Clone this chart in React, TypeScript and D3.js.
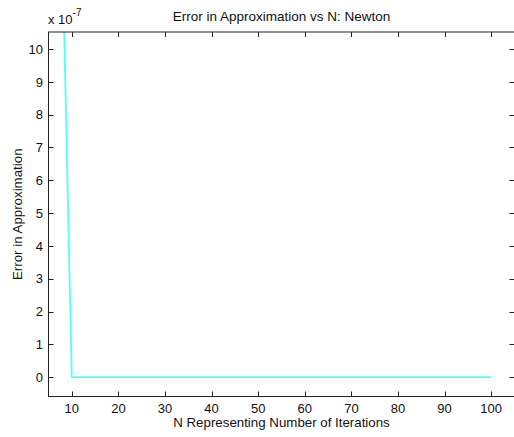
import React from "react";
import * as d3 from "d3";

// Data
const iterations: number[] = d3.range(8, 101);
const errorValues: number[] = [
  1.29e-6, 6.4e-7,
  0, 0, 0, 0, 0, 0, 0, 0, 0, 0,
  0, 0, 0, 0, 0, 0, 0, 0, 0, 0,
  0, 0, 0, 0, 0, 0, 0, 0, 0, 0,
  0, 0, 0, 0, 0, 0, 0, 0, 0, 0,
  0, 0, 0, 0, 0, 0, 0, 0, 0, 0,
  0, 0, 0, 0, 0, 0, 0, 0, 0, 0,
  0, 0, 0, 0, 0, 0, 0, 0, 0, 0,
  0, 0, 0, 0, 0, 0, 0, 0, 0, 0,
  0, 0, 0, 0, 0, 0, 0, 0, 0, 0,
  0,
];
const xTicks = [10, 20, 30, 40, 50, 60, 70, 80, 90, 100];
const yTicks = [0, 1, 2, 3, 4, 5, 6, 7, 8, 9, 10];
const yExponent = -7;
const titleText = "Error in Approximation vs N: Newton";
const xLabelText = "N Representing Number of Iterations";
const yLabelText = "Error in Approximation";

const W = 514;
const H = 437;
const left = 48.5;
const right = 514.5;
const top = 32;
const bottom = 396.5;

export default function App() {
  const x = d3.scaleLinear().domain([5, 105]).range([left, right]);
  const y = d3.scaleLinear().domain([-0.59, 10.52]).range([bottom, top]);
  const scale = Math.pow(10, yExponent);
  const line = d3
    .line<number>()
    .x((_, i) => x(iterations[i]))
    .y((d) => y(d / scale));
  const font = "Arial, 'Liberation Sans', Helvetica, sans-serif";
  const tickLen = 5;
  const axisColor = "#222";
  return (
    <svg
      width={W}
      height={H}
      style={{ position: "absolute", left: 0, top: 0, background: "#fff" }}
      fontFamily={font}
    >
      <defs>
        <clipPath id="plotclip">
          <rect x={left} y={top} width={right - left} height={bottom - top} />
        </clipPath>
      </defs>
      <rect x={0} y={0} width={W} height={H} fill="#fff" />
      <path
        d={line(errorValues) || ""}
        fill="none"
        stroke="#4dffff"
        strokeWidth={1.8}
        clipPath="url(#plotclip)"
      />
      {/* box */}
      <rect
        x={left}
        y={top}
        width={right - left}
        height={bottom - top}
        fill="none"
        stroke={axisColor}
        strokeWidth={1}
      />
      {xTicks.map((t) => (
        <g key={"x" + t}>
          <line x1={Math.round(x(t)) + 0.5} x2={Math.round(x(t)) + 0.5} y1={bottom} y2={bottom - tickLen} stroke={axisColor} />
          <line x1={Math.round(x(t)) + 0.5} x2={Math.round(x(t)) + 0.5} y1={top} y2={top + tickLen} stroke={axisColor} />
          <text x={x(t)} y={413} textAnchor="middle" fontSize={13} fill="#111">
            {t}
          </text>
        </g>
      ))}
      {yTicks.map((t) => (
        <g key={"y" + t}>
          <line x1={left} x2={left + tickLen} y1={Math.round(y(t)) + 0.5} y2={Math.round(y(t)) + 0.5} stroke={axisColor} />
          <line x1={right} x2={right - tickLen} y1={Math.round(y(t)) + 0.5} y2={Math.round(y(t)) + 0.5} stroke={axisColor} />
          <text x={43} y={y(t)} dy="0.36em" textAnchor="end" fontSize={13} fill="#111">
            {t}
          </text>
        </g>
      ))}
      <text x={48} y={24} fontSize={13} fill="#111">
        x 10
        <tspan dy={-8} fontSize={10}>
          {yExponent}
        </tspan>
      </text>
      <text x={(left + right) / 2} y={21} textAnchor="middle" fontSize={13.5} fill="#111">
        {titleText}
      </text>
      <text x={(left + right) / 2} y={426.5} textAnchor="middle" fontSize={13.3} fill="#111">
        {xLabelText}
      </text>
      <text
        transform={`translate(21.5,${(top + bottom) / 2}) rotate(-90)`}
        textAnchor="middle"
        fontSize={13.3}
        fill="#111"
      >
        {yLabelText}
      </text>
    </svg>
  );
}
